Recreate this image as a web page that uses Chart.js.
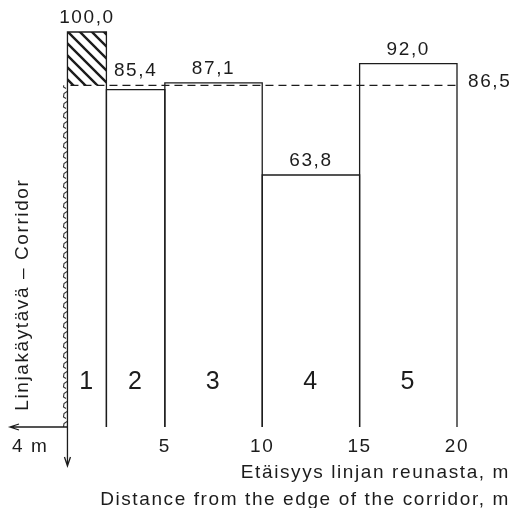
<!DOCTYPE html>
<html>
<head>
<meta charset="utf-8">
<script src="https://cdn.jsdelivr.net/npm/chart.js@4/dist/chart.umd.min.js"></script>
<style>
  html, body { margin: 0; padding: 0; background: #fff; }
  canvas { display: block; }
</style>
</head>
<body>
<canvas id="corridorChart" width="510" height="508"></canvas>
<script>
// Data
const categories = ['1', '2', '3', '4', '5'];
const binEdges = [0, 2, 5, 10, 15, 20];
const values = [100.0, 85.4, 87.1, 63.8, 92.0];
const refValue = 86.5;
const xTicks = [5, 10, 15, 20];
const leftLabel = '4 m';
const xTitle = ['Etäisyys linjan reunasta, m', 'Distance from the edge of the corridor, m'];
const yTitle = 'Linjakäytävä – Corridor';

// Style
const ink = '#1c1c1c';
const font = '"Liberation Sans", Arial, sans-serif';
const wallWidth = 0.3;

function fmt(v) {
    return v.toFixed(1).replace('.', ',');
}

function makeHatch() {
    const c = document.createElement('canvas');
    c.width = 12; c.height = 12;
    const g = c.getContext('2d');
    g.strokeStyle = ink;
    g.lineWidth = 2.4;
    g.beginPath();
    g.moveTo(-3, -3); g.lineTo(15, 15);
    g.moveTo(-3, 9); g.lineTo(3, 15);
    g.moveTo(9, -3); g.lineTo(15, 3);
    g.stroke();
    return g.createPattern(c, 'repeat');
}

function makeWall() {
    const c = document.createElement('canvas');
    c.width = 6; c.height = 10;
    const g = c.getContext('2d');
    g.strokeStyle = '#333';
    g.lineWidth = 1.1;
    g.beginPath();
    g.moveTo(5, 1.5); g.lineTo(2, 3.5); g.lineTo(1.5, 7); g.lineTo(4, 8.5);
    g.stroke();
    return g.createPattern(c, 'repeat');
}

const wallPattern = makeWall();
const datasets = [];

// corridor wall strip
datasets.push({
    data: [{x: -wallWidth, y: refValue}, {x: 0, y: refValue}],
    borderWidth: 0,
    fill: {value: 0},
    backgroundColor: wallPattern
});

// hatched part of bar 1 above the reference line
datasets.push({
    data: [{x: binEdges[0], y: values[0]}, {x: binEdges[1], y: values[0]}],
    borderWidth: 0,
    fill: {value: refValue},
    backgroundColor: makeHatch()
});

// bar outlines
values.forEach(function (v, i) {
    const x0 = binEdges[i], x1 = binEdges[i + 1];
    datasets.push({
        data: [{x: x0, y: 0}, {x: x0, y: v}, {x: x1, y: v}, {x: x1, y: 0}],
        borderColor: ink,
        borderWidth: 1.3,
        fill: false
    });
});

// reference line
datasets.push({
    data: [{x: binEdges[0], y: refValue}, {x: binEdges[binEdges.length - 1], y: refValue}],
    borderColor: ink,
    borderWidth: 1.1,
    borderDash: [8, 5],
    borderDashOffset: -3,
    fill: false
});

datasets.forEach(function (d) {
    d.showLine = true;
    d.pointRadius = 0;
    d.clip = false;
});

const annotate = {
    id: 'annotate',
    beforeDatasetsDraw(chart) {
        // align wall marks with the strip
        const xw = chart.scales.x.getPixelForValue(-wallWidth);
        wallPattern.setTransform(new DOMMatrix().translate(Math.round(xw), 0));
    },
    afterDatasetsDraw(chart) {
        const ctx = chart.ctx;
        const xs = chart.scales.x, ys = chart.scales.y;
        const y0 = ys.getPixelForValue(0);
        const x0 = xs.getPixelForValue(0);
        const xEnd = xs.getPixelForValue(binEdges[binEdges.length - 1]);
        ctx.save();
        ctx.strokeStyle = ink;
        ctx.fillStyle = ink;
        ctx.lineWidth = 1.3;

        // left arrow along x axis
        const xl = chart.chartArea.left;
        ctx.beginPath();
        ctx.moveTo(x0, y0); ctx.lineTo(xl, y0);
        ctx.moveTo(xl + 9, y0 - 3); ctx.lineTo(xl, y0); ctx.lineTo(xl + 9, y0 + 3);
        ctx.stroke();

        // downward arrow
        const yd = y0 + 39;
        ctx.beginPath();
        ctx.moveTo(x0, y0); ctx.lineTo(x0, yd);
        ctx.moveTo(x0 - 3, yd - 9); ctx.lineTo(x0, yd); ctx.lineTo(x0 + 3, yd - 9);
        ctx.stroke();

        ctx.letterSpacing = '1.6px';
        ctx.font = '19px ' + font;
        ctx.textBaseline = 'alphabetic';

        // tick labels
        ctx.textAlign = 'center';
        xTicks.forEach(function (t) {
            ctx.fillText(String(t), xs.getPixelForValue(t), y0 + 25);
        });
        ctx.textAlign = 'left';
        ctx.fillText(leftLabel, xl + 2, y0 + 25);

        // value labels
        ctx.textAlign = 'center';
        values.forEach(function (v, i) {
            const cx = xs.getPixelForValue((binEdges[i] + binEdges[i + 1]) / 2);
            const top = Math.abs(v - refValue) < 2 ? Math.max(v, refValue) : v;
            ctx.fillText(fmt(v), cx, ys.getPixelForValue(top) - 9);
        });

        // reference label
        ctx.textAlign = 'left';
        ctx.fillText(fmt(refValue), xEnd + 11, ys.getPixelForValue(refValue) + 2);

        // x titles
        ctx.textAlign = 'right';
        ctx.fillText(xTitle[0], chart.width, y0 + 51);
        ctx.fillText(xTitle[1], chart.width, y0 + 78);

        // y title
        ctx.save();
        ctx.translate(28, ys.getPixelForValue(33.5));
        ctx.rotate(-Math.PI / 2);
        ctx.textAlign = 'center';
        ctx.fillText(yTitle, 0, 0);
        ctx.restore();

        // bar numbers
        ctx.font = '25px ' + font;
        ctx.textAlign = 'center';
        categories.forEach(function (c, i) {
            const cx = xs.getPixelForValue((binEdges[i] + binEdges[i + 1]) / 2);
            ctx.fillText(c, cx, y0 - 38);
        });
        ctx.restore();
    }
};

new Chart(document.getElementById('corridorChart'), {
    type: 'scatter',
    data: {datasets: datasets},
    options: {
        responsive: false,
        animation: false,
        events: [],
        layout: {padding: {left: 10, right: 53, top: 32, bottom: 81}},
        plugins: {
            legend: {display: false},
            tooltip: {enabled: false}
        },
        scales: {
            x: {type: 'linear', min: -2.95, max: 20, display: false},
            y: {type: 'linear', min: 0, max: 100, display: false}
        }
    },
    plugins: [annotate]
});
</script>
</body>
</html>
